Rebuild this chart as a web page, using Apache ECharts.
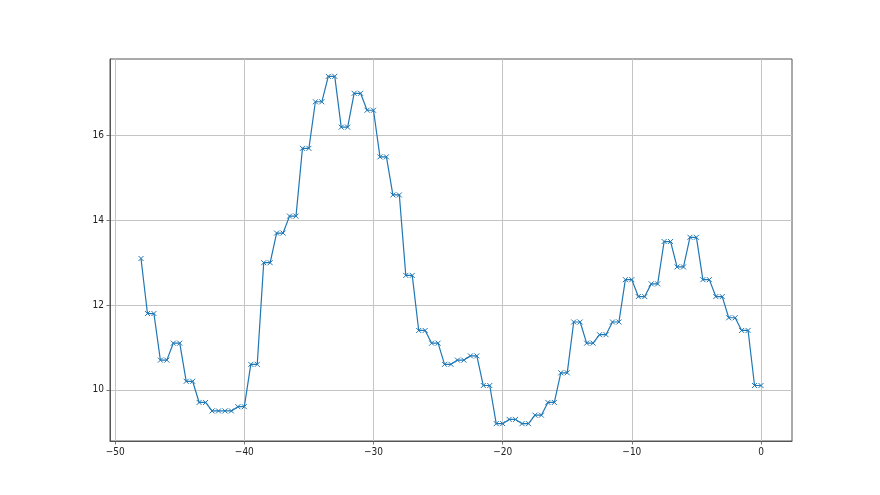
<!DOCTYPE html>
<html>
<head>
<meta charset="utf-8">
<script src="https://cdn.jsdelivr.net/npm/echarts@6/dist/echarts.min.js"></script>
<style>html,body{margin:0;padding:0;background:#fff}#c{width:880px;height:495px}</style>
</head>
<body>
<div id="c"></div>
<script>
const xValues = [-48, -47.5, -47, -46.5, -46, -45.5, -45, -44.5, -44, -43.5, -43, -42.5, -42, -41.5, -41, -40.5, -40,
  -39.5, -39, -38.5, -38, -37.5, -37, -36.5, -36, -35.5, -35, -34.5, -34, -33.5, -33, -32.5, -32, -31.5, -31, -30.5, -30,
  -29.5, -29, -28.5, -28, -27.5, -27, -26.5, -26, -25.5, -25, -24.5, -24, -23.5, -23, -22.5, -22, -21.5, -21, -20.5, -20,
  -19.5, -19, -18.5, -18, -17.5, -17, -16.5, -16, -15.5, -15, -14.5, -14, -13.5, -13, -12.5, -12, -11.5, -11, -10.5, -10,
  -9.5, -9, -8.5, -8, -7.5, -7, -6.5, -6, -5.5, -5, -4.5, -4, -3.5, -3, -2.5, -2, -1.5, -1, -0.5, 0];
const yValues = [13.1, 11.8, 11.8, 10.7, 10.7, 11.1, 11.1, 10.2, 10.2, 9.7, 9.7, 9.5, 9.5, 9.5, 9.5, 9.6, 9.6,
  10.6, 10.6, 13.0, 13.0, 13.7, 13.7, 14.1, 14.1, 15.7, 15.7, 16.8, 16.8, 17.4, 17.4, 16.2, 16.2, 17.0, 17.0, 16.6, 16.6,
  15.5, 15.5, 14.6, 14.6, 12.7, 12.7, 11.4, 11.4, 11.1, 11.1, 10.6, 10.6, 10.7, 10.7, 10.8, 10.8, 10.1, 10.1, 9.2, 9.2,
  9.3, 9.3, 9.2, 9.2, 9.4, 9.4, 9.7, 9.7, 10.4, 10.4, 11.6, 11.6, 11.1, 11.1, 11.3, 11.3, 11.6, 11.6, 12.6, 12.6,
  12.2, 12.2, 12.5, 12.5, 13.5, 13.5, 12.9, 12.9, 13.6, 13.6, 12.6, 12.6, 12.2, 12.2, 11.7, 11.7, 11.4, 11.4, 10.1, 10.1];
const xTicks = [-50, -40, -30, -20, -10, 0];
const yTicks = [10, 12, 14, 16];

const data = xValues.map((x, i) => [x, yValues[i]]);
const fmt = v => String(v).replace('-', '\u2212');
const chart = echarts.init(document.getElementById('c'), null, {renderer: 'canvas'});
const axisCommon = {
  axisLine: {show: true, onZero: false, lineStyle: {color: '#555', width: 1}},
  axisLabel: {color: '#222', fontFamily: '"DejaVu Sans Condensed", "DejaVu Sans", sans-serif', fontSize: 10, formatter: fmt, margin: 6},
  splitLine: {show: true, lineStyle: {color: '#c4c4c4', width: 1}},
  axisTick: {show: true, length: 3.5, lineStyle: {color: '#555', width: 0.8}}
};
chart.setOption({
  animation: false,
  backgroundColor: '#fff',
  grid: {left: 110, right: 88, top: 59, bottom: 54, show: true, borderColor: '#555', borderWidth: 1, backgroundColor: 'transparent'},
  xAxis: {
    type: 'value', min: -50.4, max: 2.4,
    ...axisCommon,
    axisTick: {...axisCommon.axisTick, customValues: xTicks},
    axisLabel: {...axisCommon.axisLabel, customValues: xTicks}
  },
  yAxis: {
    type: 'value', min: 8.79, max: 17.81,
    ...axisCommon,
    axisTick: {...axisCommon.axisTick, customValues: yTicks},
    axisLabel: {...axisCommon.axisLabel, customValues: yTicks}
  },
  series: [{
    type: 'line',
    data: data,
    symbol: 'path://M0,0L10,10M10,0L0,10',
    symbolSize: 5,
    showAllSymbol: true,
    lineStyle: {color: '#1f77b4', width: 1.2},
    itemStyle: {color: '#1f77b4', borderColor: '#1f77b4', borderWidth: 1}
  }]
});
</script>
</body>
</html>
